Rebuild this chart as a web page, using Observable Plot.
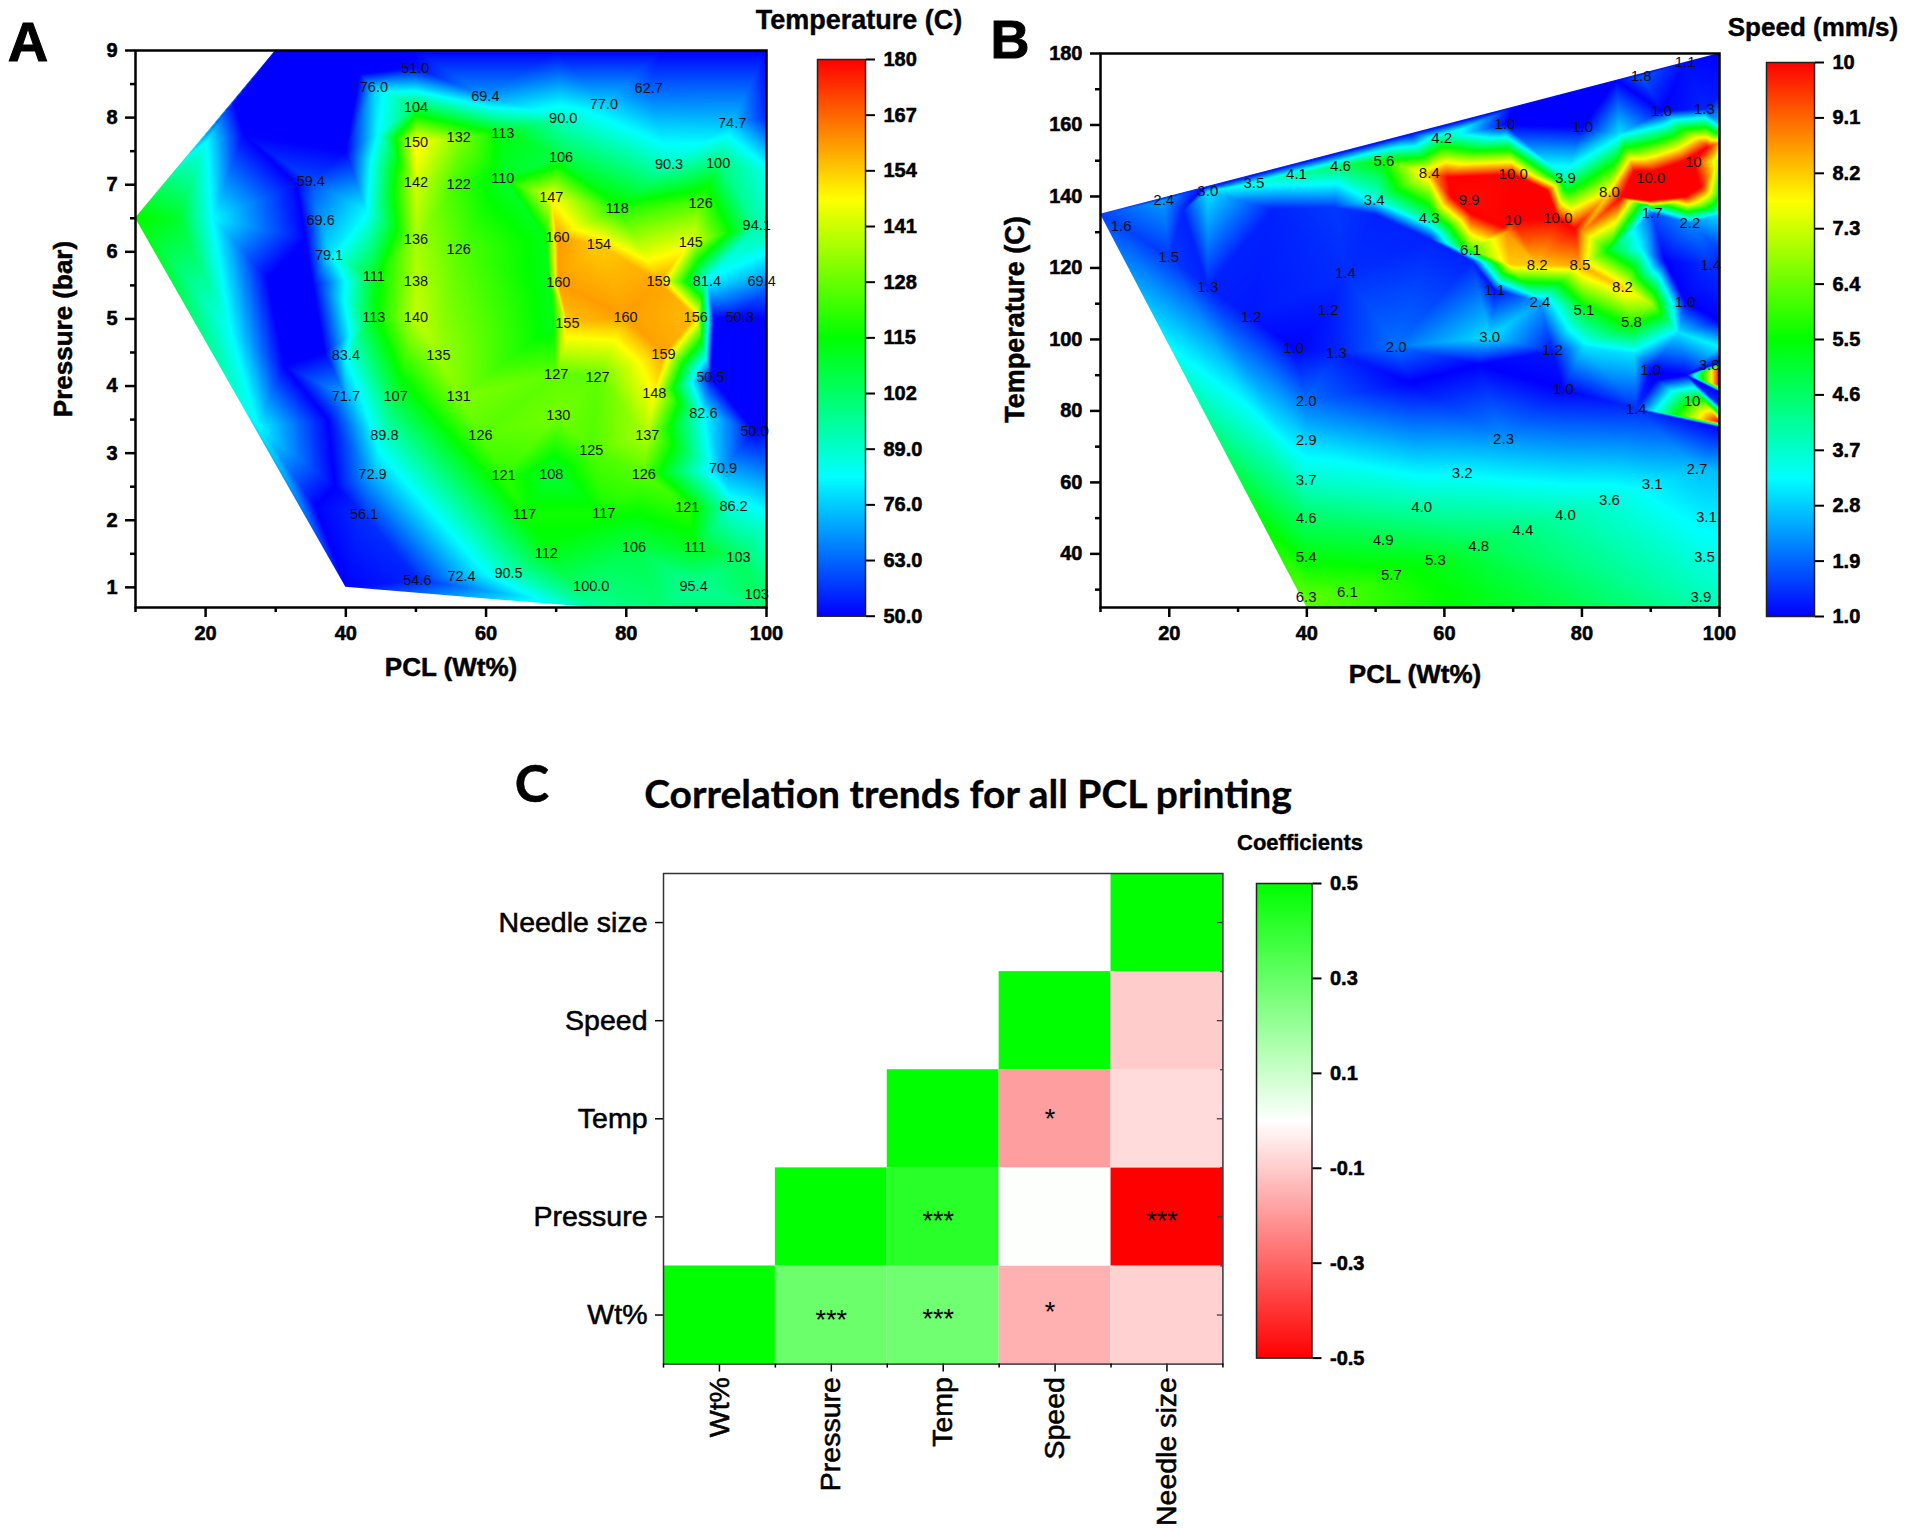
<!DOCTYPE html>
<html><head><meta charset="utf-8">
<script src="https://cdn.jsdelivr.net/npm/d3@7"></script>
<script src="https://cdn.jsdelivr.net/npm/@observablehq/plot@0.6"></script>
<style>
html,body{margin:0;padding:0;background:#fff;}
body{position:relative;width:1907px;height:1531px;overflow:hidden;font-family:"Liberation Sans",Arial,sans-serif;}
.t{position:absolute;white-space:nowrap;color:#000;font-weight:bold;transform:translate(-50%,-50%);line-height:1;}
g[aria-label$="tick label"] text{stroke:#000;stroke-width:.55px;}
</style></head><body>
<script>
// Panel A: labelled points
const labelA=["51.0","76.0","104","69.4","90.0","77.0","62.7","74.7","150","132","113","106","90.3","100","59.4","142","122","110","147","118","126","69.6","136","126","160","154","145","94.1","79.1","111","138","160","159","81.4","69.4","113","140","155","160","156","50.3","83.4","135","127","127","159","50.5","71.7","107","131","148","130","82.6","89.8","126","137","125","50.0","72.9","121","108","126","70.9","56.1","117","117","121","86.2","112","106","111","103","54.6","72.4","90.5","100.0","95.4","103"];
const pclA=[49.9,44,50,59.9,71,76.8,83.2,95.1,50,56.1,62.4,70.7,86.1,93.1,35,50,56.1,62.4,69.3,78.7,90.6,36.4,50,56.1,70.2,76.1,89.2,98.6,37.6,44,50,70.3,84.6,91.5,99.3,44,50,71.6,79.9,89.9,96.2,40,53.2,70,75.9,85.3,92,40,47.1,56.1,84,70.3,91,45.5,59.2,83,75,98.3,43.8,62.5,69.3,82.5,93.8,42.6,65.5,76.8,88.7,95.3,68.6,81.1,89.8,96,50.2,56.5,63.2,75,89.6,98.6];
const pressureA=[8.74,8.45,8.16,8.32,7.99,8.19,8.43,7.92,7.63,7.7,7.77,7.41,7.3,7.32,7.05,7.03,7,7.1,6.81,6.65,6.72,6.47,6.18,6.03,6.21,6.11,6.14,6.4,5.94,5.63,5.56,5.54,5.56,5.56,5.56,5.03,5.03,4.94,5.03,5.03,5.03,4.45,4.45,4.18,4.13,4.47,4.13,3.85,3.85,3.84,3.89,3.56,3.6,3.27,3.27,3.27,3.04,3.33,2.69,2.67,2.69,2.69,2.77,2.09,2.09,2.11,2.19,2.2,1.51,1.6,1.59,1.44,1.11,1.17,1.21,1.01,1.02,0.9];
// Panel A: unlabelled readings along the hull and at sharp edges
const edgePclA=[10,24,30,50,70,85,100,100,100,100,100,100,100,100,100,100,100,85,75,40,92.5,68.5,69,69.5,25.4,28.8,31.2,35.6,42,40,44.5,43,16,20.2,21,23.8,27.5,33,34.3,35.3,37,37.4,38.5];
const edgePressureA=[6.5,8.25,9,9,9,9,9,8,7.2,6.2,5.5,5,3.4,2.6,2,1,0.7,0.7,0.7,1,5,6.2,5.5,4.9,7.76,5.6,4.3,2.2,8.65,7.5,7.76,6.6,6.5,7.66,6.5,4.78,3.4,7,6.2,5.5,4.5,3.5,2.5];
const edgeTempA=[116,50,50,50,50,50,50,55,85,90,65,50,50,70,86,100,100,100,95,50,50,112,112,112,50,50,50,50,50,50,82,82,110,82,82,82,82,50,50,50,50,50,50];
// Panel A: outline of the surface
const hullUpperPclA=[10,30,100];
const hullUpperPressureA=[6.5,9,9];
const hullLowerPclA=[10,40,75,100];
const hullLowerPressureA=[6.5,1,0.7,0.7];

// Panel B: labelled points
const labelB=["1.1","1.8","1.0","1.3","1.0","1.0","4.2","2.4","3.0","3.5","4.1","4.6","5.6","8.4","10.0","3.9","10.0","10","9.9","3.4","8.0","1.6","4.3","10","10.0","1.7","2.2","6.1","1.5","1.4","8.2","8.5","1.4","1.3","1.1","2.4","8.2","5.1","1.0","1.2","1.2","5.8","3.0","1.0","1.3","2.0","1.2","1.0","1.0","2.0","1.4","2.9","2.3","3.7","3.2","2.7","3.1","3.6","4.0","4.0","3.1","4.6","4.4","4.9","4.8","5.4","5.3","3.5","5.7","6.1","6.3","3.9"];
const pclB=[95,88.6,91.6,97.8,68.8,80.1,59.6,19.2,25.6,32.3,38.5,44.9,51.2,57.8,70,77.6,90,96.2,63.6,49.8,84,13,57.8,70,76.5,90.2,95.7,63.8,19.9,45.6,73.5,79.7,98.7,25.6,67.3,73.9,85.9,80.3,95,31.9,43.1,87.2,66.6,38.1,44.3,53,75.7,90,77.3,39.9,87.9,39.9,68.6,39.9,62.6,96.7,90.2,84,56.7,77.6,98.1,39.9,71.4,51.1,65,39.9,58.7,97.8,52.3,45.9,39.9,97.3];
const tempB=[177.5,173.7,163.9,164.5,160.1,159.4,156.4,139,141.4,143.8,146.2,148.6,149.9,146.5,146.2,145.2,145.2,149.6,139,139,141.1,131.6,133.9,133.3,133.9,135.3,132.6,125.1,123.1,118.6,120.7,120.7,120.7,114.6,113.9,110.5,114.6,108.1,110.5,106.1,108.1,104.7,100.6,97.6,96.2,97.9,96.9,91.5,86,82.6,80.6,71.7,72.1,60.5,62.6,63.6,59.5,55.1,53.1,50.7,50.3,50,46.6,43.9,42.2,39.1,38.1,39.1,34,29.3,27.9,27.9];
// Panel B: labels printed away from the surface they describe
const looseLabelB=["3.8","10"];
const loosePclB=[98.5,96];
const looseTempB=[92.8,82.6];
// Panel B: unlabelled readings along the hull and at sharp edges
const edgePclB=[10,25,40,55,70,85,100,100,100,100,100,100,100,100,100,100,95.2,100,100,100,90.8,100,100,100,100,100,100,40,22,35,44,50,58,64,84,89,92,90,80.3,87.6,94,55,65,85.5,100,85.7,89.6,94.9,97.3,98.2,94.9,90.5,87.6,60.5,75,79,68.7,63.8,61,69.5,80,69,89.6];
const edgeTempB=[135,142.5,150,157.5,165,172.5,180,168,160,155,140,135,125,105,98,93.5,90,91.9,87,85.4,88.6,81.5,76.8,75.5,63,25,25,25,136,136.5,137,135,128,122,125,125,122,110,98,96,102,88,93,157.5,150,139.8,138.8,139.8,142.6,153.8,150,147.2,147.2,145.4,141.7,131,131.4,135.2,139.8,121,130,130,137];
const edgeSpeedB=[1.6,1,1,1,1,1,1,1.2,3,8.5,5.5,3,1.5,1,3.2,1,1,10,10,1,1,1.5,10,1,2.7,3.9,3.9,6.3,1.3,1.3,1.5,1.3,1.3,1.3,5.2,3,1,7,3,3,3,1,1,3,7,10,10,10,10,10,10,10,10,10,10,10,10,10,10,8.2,8.7,8.7,3.5];
// Panel B: outline of the surface
const hullUpperPclB=[10,100];
const hullUpperTempB=[135,180];
const hullLowerPclB=[10,40,100];
const hullLowerTempB=[135,25,25];

// Panel C
const factors=["Wt%","Pressure","Temp","Speed","Needle size"];
const corrCol=["Wt%","Pressure","Temp","Speed","Needle size","Pressure","Temp","Speed","Needle size","Temp","Speed","Needle size","Speed","Needle size","Needle size"];
const corrRow=["Wt%","Wt%","Wt%","Wt%","Wt%","Pressure","Pressure","Pressure","Pressure","Temp","Temp","Temp","Speed","Speed","Needle size"];
const corrVal=[0.5,0.29,0.28,-0.155,-0.09,0.5,0.42,0.005,-0.5,0.5,-0.19,-0.07,0.5,-0.1,0.5];
const starCol=["Pressure","Temp","Speed","Temp","Needle size","Speed"];
const starRow=["Wt%","Wt%","Wt%","Pressure","Pressure","Temp"];
const starText=["***","***","*","***","***","*"];

const rainbow=["#0000ff","#00ffff","#00ff00","#ffff00","#ff0000"];
const ticksTemp=[50,63,76,89,102,115,128,141,154,167,180];
const ticksSpeed=[1,1.9,2.8,3.7,4.6,5.5,6.4,7.3,8.2,9.1,10];
const ticksCoef=[-0.5,-0.3,-0.1,0.1,0.3,0.5];

const font='"Liberation Sans",Arial,sans-serif';
const bg={background:"transparent",overflow:"visible"};
function place(svg,left,top){svg.style.position="absolute";svg.style.left=left+"px";svg.style.top=top+"px";svg.style.maxWidth="none";svg.style.background="transparent";document.body.append(svg);}
function text(s,x,y,size,extra){const d=document.createElement("div");d.className="t";d.textContent=s;d.style.left=x+"px";d.style.top=y+"px";d.style.fontSize=size+"px";d.style.webkitTextStroke=".4px #000";if(extra)Object.assign(d.style,extra);document.body.append(d);}
const rows=(xs,ys,ls)=>xs.map((x,i)=>({x,y:ys[i],v:+ls[i],label:ls[i]}));
const pts=(xs,ys)=>xs.map((x,i)=>({x,y:ys[i]}));
const none=()=>"";
const axisFont={fontSize:20,fontWeight:"bold",fontFamily:font};

function contour({width,height,ml,mt,mr,mb,yd,yMajor,yMinor,colorDomain,mesh,labels,lf,xlab,ylab,upper,lower}){
  return Plot.plot({width,height,marginLeft:ml,marginTop:mt,marginRight:mr,marginBottom:mb,style:bg,
    x:{domain:[10,100]},y:{domain:yd},
    color:{type:"linear",domain:colorDomain,range:rainbow,clamp:true},
    marks:[
      Plot.raster(mesh,{x:"x",y:"y",fill:"v",interpolate:"barycentric",pixelSize:1}),
      Plot.areaY(upper,{x:"x",y1:"y",y2:yd[1],fill:"#fff"}),
      Plot.areaY(lower,{x:"x",y1:"y",y2:yd[0],fill:"#fff"}),
      Plot.frame({stroke:"#000",strokeWidth:2.5}),
      Plot.axisX({ticks:[20,40,60,80,100],tickSize:10,tickPadding:8,strokeWidth:2.5,label:null,...axisFont}),
      Plot.axisX({ticks:[10,30,50,70,90],tickSize:5,tickFormat:none,strokeWidth:2.5,label:null}),
      Plot.axisY({ticks:yMajor,tickSize:10,tickPadding:8,strokeWidth:2.5,label:null,...axisFont}),
      Plot.axisY({ticks:yMinor,tickSize:5,tickFormat:none,strokeWidth:2.5,label:null}),
      Plot.text(labels,{x:"x",y:"y",text:"label",fontSize:lf,fontFamily:font,fill:"#111"}),
      Plot.text([xlab.text],{frameAnchor:"bottom",textAnchor:"middle",dx:xlab.dx,dy:xlab.dy,fontSize:26,fontWeight:"bold",fontFamily:font,stroke:"#000",strokeWidth:.5,fill:"#000"}),
      Plot.text([ylab.text],{frameAnchor:"left",textAnchor:"middle",rotate:-90,dx:ylab.dx,dy:ylab.dy,fontSize:ylab.size,fontWeight:"bold",fontFamily:font,stroke:"#000",strokeWidth:.5,fill:"#000"})
    ]});
}
function bar({width,height,ml,mt,mr,mb,domain,range,ticks,fmt,ylo,yhi}){
  return Plot.plot({width,height,marginLeft:ml,marginTop:mt,marginRight:mr,marginBottom:mb,style:bg,
    x:{domain:[0,1],axis:null},y:{domain:[ylo,yhi]},
    color:{type:"linear",domain,range,clamp:true},
    marks:[
      Plot.raster({x1:0,x2:1,y1:ylo,y2:yhi,fill:(x,y)=>y,pixelSize:1}),
      Plot.frame({stroke:"#222",strokeWidth:1.5}),
      Plot.axisY({anchor:"right",ticks,tickFormat:fmt,tickSize:9,tickPadding:9,strokeWidth:2,label:null,...axisFont})
    ]});
}

const tA=rows(pclA,pressureA,labelA);
const meshA=tA.concat(edgePclA.map((x,i)=>({x,y:edgePressureA[i],v:edgeTempA[i]})));
place(contour({width:800,height:720,ml:135,mt:50,mr:34,mb:113,yd:[0.7,9],
  yMajor:[1,2,3,4,5,6,7,8,9],yMinor:[1.5,2.5,3.5,4.5,5.5,6.5,7.5,8.5],
  colorDomain:[50,82.5,115,147.5,180],mesh:meshA,labels:tA,lf:14.5,
  upper:pts(hullUpperPclA,hullUpperPressureA),lower:pts(hullLowerPclA,hullLowerPressureA),
  xlab:{text:"PCL (Wt%)",dx:0,dy:68},ylab:{text:"Pressure (bar)",dx:-72,dy:0,size:26}}),0,0);
place(bar({width:107,height:590,ml:17,mt:19,mr:42,mb:14.3,domain:[50,82.5,115,147.5,180],range:rainbow,ticks:ticksTemp,ylo:50,yhi:180,
  fmt:d=>d<100?d.toFixed(1):String(d)}),800,40);

const tB=rows(pclB,tempB,labelB);
const meshB=tB.concat(edgePclB.map((x,i)=>({x,y:edgeTempB[i],v:edgeSpeedB[i]})));
const lB=tB.concat(rows(loosePclB,looseTempB,looseLabelB));
place(contour({width:750,height:720,ml:100,mt:53,mr:31,mb:113,yd:[25,180],
  yMajor:[40,60,80,100,120,140,160,180],yMinor:[30,50,70,90,110,130,150,170],
  colorDomain:[1,3.25,5.5,7.75,10],mesh:meshB,labels:lB,lf:15,
  upper:pts(hullUpperPclB,hullUpperTempB),lower:pts(hullLowerPclB,hullLowerTempB),
  xlab:{text:"PCL (Wt%)",dx:5,dy:75},ylab:{text:"Temperature (C)",dx:-85,dy:-11,size:27}}),1000,0);
place(bar({width:107,height:590,ml:16,mt:22,mr:43,mb:14,domain:[1,3.25,5.5,7.75,10],range:rainbow,ticks:ticksSpeed,ylo:1,yhi:10,
  fmt:d=>d===10?"10":d.toFixed(1)}),1750,40);

text("Temperature (C)",859,20,27);
text("Speed (mm/s)",1813,27,26);
text("A",28,42,56,{webkitTextStroke:"1px #000"});
text("B",1010,39,54,{webkitTextStroke:"1px #000"});
text("C",532,782,52,{fontFamily:"Lato,sans-serif",webkitTextStroke:".5px #000"});
text("Correlation trends for all PCL printing",968,793,39,{fontFamily:"Lato,sans-serif",webkitTextStroke:".3px #000"});
text("Coefficients",1300,843,22);

// Panel C heatmap
const corr=corrCol.map((c,i)=>({c,r:corrRow[i],v:corrVal[i]}));
const stars=starCol.map((c,i)=>({c,r:starRow[i],s:starText[i]}));
const layoutC={width:760,height:680,marginLeft:183,marginTop:13,marginRight:17.6,marginBottom:176.4,style:bg};
const starOpts={x:"c",y:"r",text:"s",fontSize:27,fill:"#000",fontFamily:font};
place(Plot.plot({...layoutC,
  x:{type:"band",domain:factors,padding:0,round:false},
  y:{type:"band",domain:factors.slice().reverse(),padding:0,round:false},
  color:{type:"linear",domain:[-0.5,0,0.5],range:["#ff0000","#ffffff","#00ff00"],clamp:true},
  marks:[
    Plot.cell(corr,{x:"c",y:"r",fill:"v",inset:0}),
    Plot.text(stars.filter(d=>d.c==="Pressure"),{...starOpts,dy:5}),
    Plot.text(stars.filter(d=>d.c!=="Pressure"&&d.s==="***"),{...starOpts,dx:-5,dy:4}),
    Plot.text(stars.filter(d=>d.s==="*"&&d.r==="Temp"),{...starOpts,dx:-5,dy:1}),
    Plot.text(stars.filter(d=>d.s==="*"&&d.r==="Wt%"),{...starOpts,dx:-5,dy:-3}),
    Plot.axisX({tickRotate:-90,tickSize:8,tickPadding:5,fontSize:28.5,fontFamily:font,strokeWidth:1.5,label:null}),
    Plot.axisY({tickSize:8,tickPadding:8,fontSize:28.5,fontFamily:font,strokeWidth:1.5,label:null})
  ]}),480,860);
place(Plot.plot({...layoutC,
  x:{domain:[0,5],axis:null},y:{domain:[0,5],axis:null},
  marks:[
    Plot.frame({stroke:"#333",strokeWidth:1.5}),
    Plot.axisX({ticks:[0,1,2,3,4,5],tickSize:4,tickFormat:none,strokeWidth:1.5,label:null}),
    Plot.ruleY([0.5,1.5,2.5,3.5,4.5],{x1:4.95,x2:5,stroke:"#333",strokeWidth:1.2}),
    Plot.ruleY([1,2,3,4],{x1:4.98,x2:5,stroke:"#333",strokeWidth:1.2})
  ]}),480,860);
place(bar({width:120,height:520,ml:16,mt:13,mr:48.5,mb:32.4,domain:[-0.5,0,0.5],range:["#ff0000","#ffffff","#00ff00"],ticks:ticksCoef,ylo:-0.5,yhi:0.5,
  fmt:d=>d3.format(".1f")(d).replace("−","-")}),1240,870);
</script>
</body></html>
